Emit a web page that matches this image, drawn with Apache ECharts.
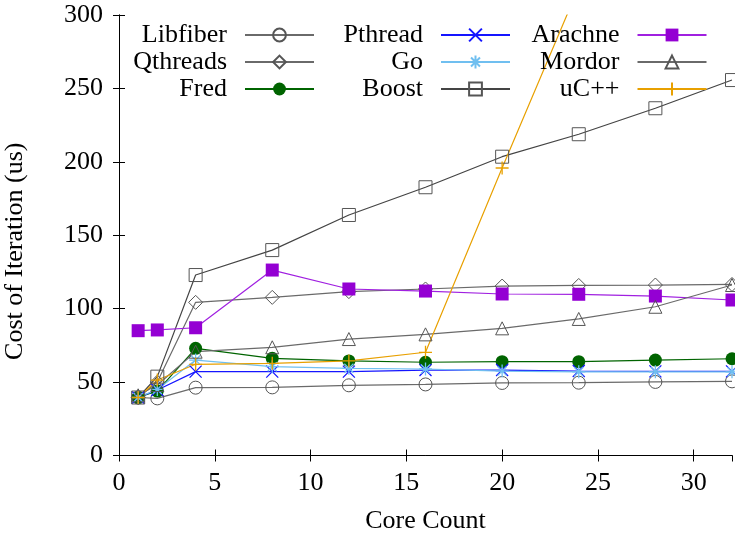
<!DOCTYPE html>
<html>
<head>
<meta charset="utf-8">
<script src="https://cdn.jsdelivr.net/npm/echarts@6/dist/echarts.min.js"></script>
<style>
html,body{margin:0;padding:0;background:#fff;}
#chart{width:735px;height:537px;}
</style>
</head>
<body>
<div id="chart"></div>
<script>
// ---- data ----
const coreCounts = [1, 2, 4, 8, 12, 16, 20, 24, 28, 32];
const libfiber = [39.5, 38.9, 46.2, 46.4, 47.8, 48.4, 49.4, 49.6, 50.1, 50.5];
const qthreads = [39.5, 50, 104.3, 107.7, 111.6, 113.4, 115.4, 115.8, 116.1, 116.5];
const fred     = [39.5, 43.9, 73, 66.2, 64.4, 63.5, 63.9, 63.9, 65, 65.9];
const pthread  = [39.5, 44.6, 57.1, 57.1, 57.1, 58.2, 58.2, 57.5, 57.3, 57.3];
const go       = [39.5, 45, 65, 60.5, 59.4, 58.9, 57.5, 57, 57, 57];
const boost    = [39.5, 53.7, 122.9, 139.9, 163.8, 182.7, 203.5, 218.8, 236.5, 255.7];
const arachne  = [85, 85.5, 87, 126.3, 113.4, 112, 110, 109.8, 108.6, 105.9];
const mordor   = [41, 48, 70.7, 73.7, 79.3, 82.5, 86.6, 93, 101.3, 116.1];
const ucpp     = [39.5, 51.4, 62.1, 62.8, 64.4, 70.3, 195.8, 319, 450, 600];

const xTicks = [0, 5, 10, 15, 20, 25, 30];
const yTicks = [0, 50, 100, 150, 200, 250, 300];

const FONT = 'Liberation Serif';

function pairs(vals) { return coreCounts.map((c, i) => [c, vals[i]]); }

const SYM_X = 'path://M0,0L10,10M10,0L0,10';
const SYM_STAR = 'path://M5,0L5,10M0,5L10,5M1.5,1.5L8.5,8.5M8.5,1.5L1.5,8.5';
const SYM_PLUS = 'path://M5,0L5,10M0,5L10,5';
const NONE = 'rgba(0,0,0,0)';

function mk(name, vals, lineColor, symbol, fill, border, bw, size) {
  return {
    name: name, type: 'line', data: pairs(vals),
    symbol: symbol, symbolSize: size || 13,
    showAllSymbol: true,
    lineStyle: { color: lineColor, width: 1.2 },
    itemStyle: { color: fill, borderColor: border, borderWidth: bw },
    emphasis: { disabled: true },
    clip: true,
    z: 2
  };
}

const series = [
  mk('Libfiber', libfiber, '#6a6a6a', 'circle', NONE, '#555', 1, 13),
  mk('Qthreads', qthreads, '#6a6a6a', 'diamond', NONE, '#555', 1, 14),
  mk('Fred', fred, '#006400', 'circle', '#006400', '#006400', 0, 13),
  mk('Pthread', pthread, '#1515ff', SYM_X, NONE, '#1515ff', 1.3, 12),
  mk('Go', go, '#70bff0', SYM_STAR, NONE, '#70bff0', 1.3, 13),
  mk('Boost', boost, '#444', 'rect', NONE, '#555', 1, 13),
  mk('Arachne', arachne, '#a020e0', 'rect', '#9400d3', '#9400d3', 0, 13),
  mk('Mordor', mordor, '#6a6a6a', 'triangle', NONE, '#555', 1, 13),
  mk('uC++', ucpp, '#e8a000', SYM_PLUS, NONE, '#e8a000', 1.3, 13)
];

function legend(names, right) {
  return {
    data: names, orient: 'vertical', align: 'right',
    right: right, top: 22, padding: 0,
    itemWidth: 69, itemHeight: 16, itemGap: 1,
    selectedMode: false,
    textStyle: { fontFamily: FONT, fontSize: 26, color: '#000', lineHeight: 26, padding: [0, 13, 0, 0] }
  };
}

const axisCommon = {
  axisLine: { show: true, lineStyle: { color: '#000', width: 1 } },
  axisTick: { show: true, inside: true, length: 6, lineStyle: { color: '#000', width: 1 } },
  splitLine: { show: false }
};

const option = {
  animation: false,
  backgroundColor: '#fff',
  grid: { left: 119, right: 3, top: 15, bottom: 81.5, containLabel: false, outerBoundsMode: 'none' },
  legend: [
    legend(['Libfiber', 'Qthreads', 'Fred'], 420),
    legend(['Pthread', 'Go', 'Boost'], 224),
    legend(['Arachne', 'Mordor', 'uC++'], 27.5)
  ],
  xAxis: [
    Object.assign({
      type: 'value', min: xTicks[0], max: 32, interval: 5, position: 'bottom',
      name: 'Core Count', nameLocation: 'middle', nameGap: 53,
      nameTextStyle: { fontFamily: FONT, fontSize: 26, color: '#000', lineHeight: 26 },
      axisLabel: { fontFamily: FONT, fontSize: 26, color: '#000', margin: 15, showMaxLabel: false,
        formatter: v => xTicks.indexOf(v) >= 0 ? String(v) : '' }
    }, axisCommon),
    Object.assign({
      type: 'value', min: xTicks[0], max: 32, interval: 5, position: 'top',
      axisLabel: { show: false }
    }, axisCommon)
  ],
  yAxis: [
    Object.assign({
      type: 'value', min: yTicks[0], max: 300, interval: 50, position: 'left',
      name: 'Cost of Iteration (us)', nameLocation: 'middle', nameGap: 91,
      nameTextStyle: { fontFamily: FONT, fontSize: 26, color: '#000', lineHeight: 26, padding: [0, 32, 0, 0] },
      axisLabel: { fontFamily: FONT, fontSize: 26, color: '#000', margin: 16,
        formatter: v => yTicks.indexOf(v) >= 0 ? String(v) : '' }
    }, axisCommon),
    Object.assign({
      type: 'value', min: yTicks[0], max: 300, interval: 50, position: 'right',
      axisLabel: { show: false }
    }, axisCommon)
  ],
  series: series
};

const chart = echarts.init(document.getElementById('chart'), null, { renderer: 'canvas' });
chart.setOption(option);
</script>
</body>
</html>
